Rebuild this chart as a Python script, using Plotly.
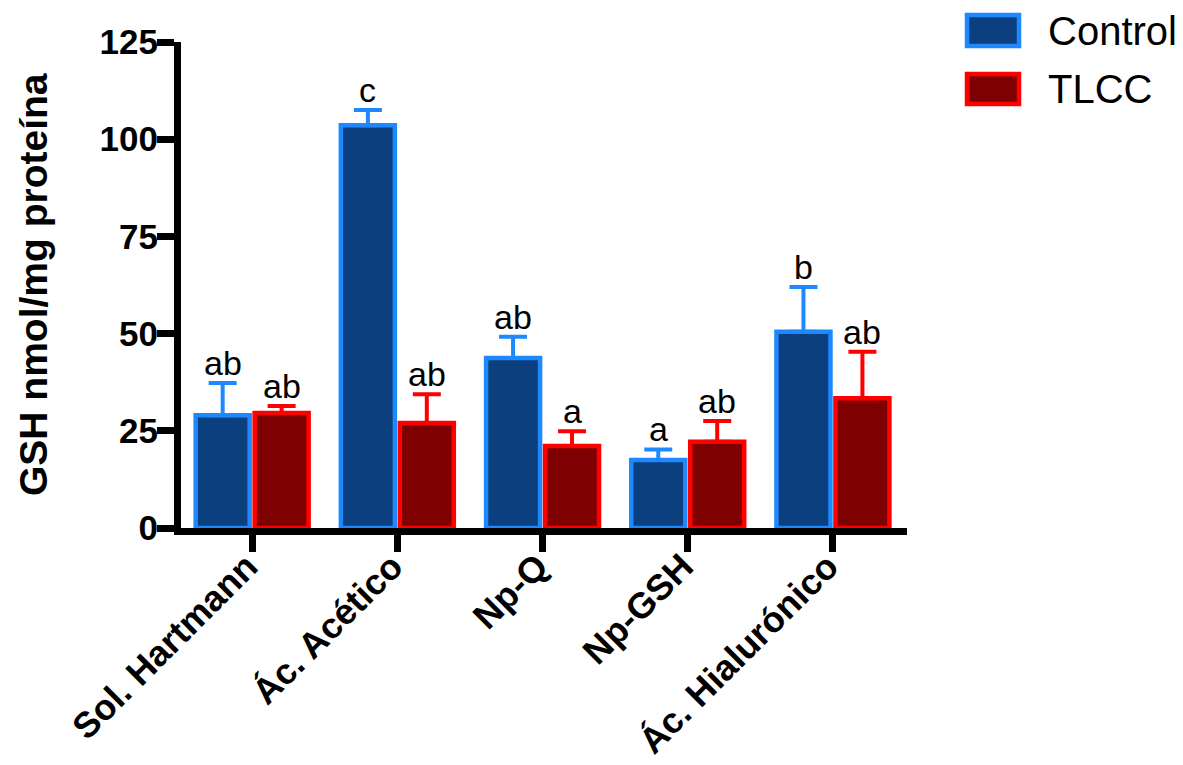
import plotly.graph_objects as go

categories = ["Sol. Hartmann", "Ác. Acético", "Np-Q", "Np-GSH", "Ác. Hialurónico"]
control_mean = [29.0, 103.6, 43.7, 17.5, 50.5]
control_err = [8.3, 3.9, 5.5, 2.7, 11.5]
tlcc_mean = [29.6, 27.0, 21.1, 22.2, 33.4]
tlcc_err = [1.8, 7.4, 3.8, 5.3, 11.9]
control_letters = ["ab", "c", "ab", "a", "b"]
tlcc_letters = ["ab", "ab", "a", "ab", "ab"]
series_names = ["Control", "TLCC"]
y_ticks = [0, 25, 50, 75, 100, 125]

W, H = 1183, 765
L, R, T, B = 181, 276, 42, 237
pw, ph = W - L - R, H - T - B

ctrl_fill, ctrl_edge = "#0B3F7E", "#1E88FF"
tlcc_fill, tlcc_edge = "#7F0000", "#FF0000"

idx = list(range(len(categories)))
fig = go.Figure()
fig.add_trace(go.Bar(
    x=idx, y=control_mean, name=series_names[0],
    marker=dict(color=ctrl_fill, line=dict(color=ctrl_edge, width=4.5)),
    error_y=dict(type="data", array=control_err, arrayminus=[0]*5, symmetric=False,
                 color=ctrl_edge, thickness=4, width=14),
))
fig.add_trace(go.Bar(
    x=idx, y=tlcc_mean, name=series_names[1],
    marker=dict(color=tlcc_fill, line=dict(color=tlcc_edge, width=4.5)),
    error_y=dict(type="data", array=tlcc_err, arrayminus=[0]*5, symmetric=False,
                 color=tlcc_edge, thickness=4, width=14),
))
# invisible helper trace so the label-only overlay axes get drawn
fig.add_trace(go.Scatter(
    x=idx, y=control_mean, xaxis="x2", yaxis="y2", mode="markers",
    marker=dict(opacity=0), hoverinfo="skip", showlegend=False,
))

gap = 0.188
off = (1 - gap) / 4
font_fam = "Liberation Sans, Arial, Helvetica, sans-serif"
annotations = []
for i in idx:
    annotations.append(dict(x=i - off, y=control_mean[i] + control_err[i], xref="x", yref="y",
                            text=control_letters[i], showarrow=False, yanchor="bottom",
                            font=dict(family=font_fam, size=34, color="black"), yshift=-1))
    annotations.append(dict(x=i + off, y=tlcc_mean[i] + tlcc_err[i], xref="x", yref="y",
                            text=tlcc_letters[i], showarrow=False, yanchor="bottom",
                            font=dict(family=font_fam, size=34, color="black"), yshift=-1))

# y-axis title
annotations.append(dict(x=(33 - L) / pw, y=0.5, xref="paper", yref="paper",
                        text="GSH nmol/mg proteína", textangle=-90, showarrow=False,
                        xanchor="center", yanchor="middle",
                        font=dict(family=font_fam, size=39, color="black", weight="bold")))

def px2x(px):
    return (px - L) / pw

def py2y(py):
    return (H - B - py) / ph

shapes = []
legend_rows = [(series_names[0], ctrl_fill, ctrl_edge, 15, 46, 31),
               (series_names[1], tlcc_fill, tlcc_edge, 74, 104, 89)]
for name, fill, edge, y0, y1, yc in legend_rows:
    shapes.append(dict(type="rect", xref="paper", yref="paper",
                       x0=px2x(967), x1=px2x(1019), y0=py2y(y1), y1=py2y(y0),
                       fillcolor=fill, line=dict(color=edge, width=4.5)))
    annotations.append(dict(x=px2x(1046), y=py2y(yc), xref="paper", yref="paper",
                            text=name, showarrow=False, xanchor="left", yanchor="middle",
                            font=dict(family=font_fam, size=40, color="black")))

xr = [-0.49, 4.51]
fig.update_layout(
    width=W, height=H,
    margin=dict(l=L, r=R, t=T, b=B, autoexpand=False),
    paper_bgcolor="white", plot_bgcolor="white",
    barmode="group", bargap=gap, bargroupgap=0.084,
    showlegend=False,
    annotations=annotations, shapes=shapes,
    xaxis=dict(range=xr, tickmode="array", tickvals=idx, showticklabels=False,
               showgrid=False, zeroline=False,
               showline=True, linecolor="black", linewidth=7,
               ticks="outside", ticklen=17, tickwidth=7, tickcolor="black"),
    xaxis2=dict(range=[xr[0] + 0.035, xr[1] + 0.035], overlaying="x", anchor="y2", side="bottom",
                tickmode="array", tickvals=idx, ticktext=categories, tickangle=-45,
                showgrid=False, zeroline=False, showline=False,
                ticks="outside", ticklen=2, tickcolor="rgba(0,0,0,0)",
                tickfont=dict(family=font_fam, size=36, color="black", weight="bold")),
    yaxis=dict(range=[0, 125], tickvals=y_ticks, showticklabels=False, showgrid=False,
               zeroline=False, showline=True, linecolor="black", linewidth=7,
               ticks="outside", ticklen=17, tickwidth=7, tickcolor="black"),
    yaxis2=dict(range=[0, 125], overlaying="y", anchor="x2", side="left",
                tickvals=y_ticks, showgrid=False, zeroline=False, showline=False,
                ticks="outside", ticklen=15, tickcolor="rgba(0,0,0,0)",
                tickfont=dict(family=font_fam, size=35, color="black", weight="bold")),
)

fig.write_html("out.html")
